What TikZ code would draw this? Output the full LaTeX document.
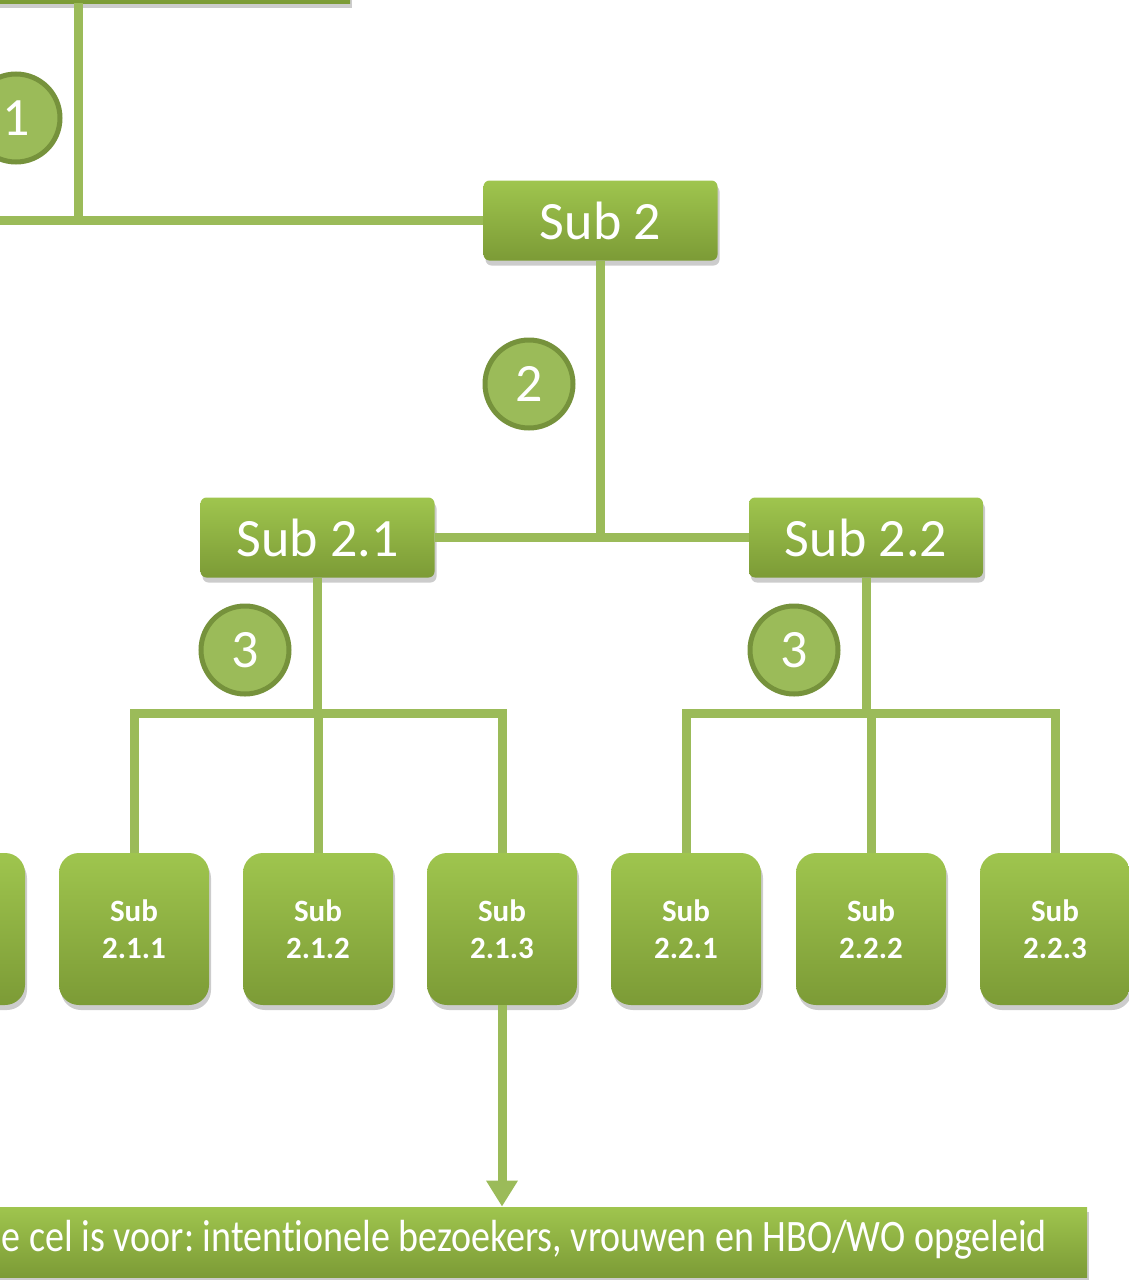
\documentclass[tikz,border=0pt]{standalone}
\usepackage{fontspec}
\setmainfont{Carlito}[Ligatures=NoCommon]
\usetikzlibrary{shadows,arrows.meta}
\frenchspacing

\definecolor{linegreen}{HTML}{9BBB59}
\definecolor{boxtop}{HTML}{9FC54E}
\definecolor{boxbottom}{HTML}{7C9B36}
\definecolor{ringgreen}{HTML}{76923C}

\begin{document}
\begin{tikzpicture}[x=0.5pt, y=-0.5pt,
    box/.style={rectangle, top color=boxtop, bottom color=boxbottom, text=white,
        drop shadow={shadow xshift=1pt, shadow yshift=-2.5pt, opacity=0.4}},
    subbox/.style={box, rounded corners=3pt, minimum width=117pt, minimum height=40pt,
        font=\fontsize{27}{30}\selectfont},
    leafbox/.style={box, rounded corners=10pt, minimum width=75pt, minimum height=76pt,
        align=center, font=\bfseries\fontsize{15.5}{18.5}\selectfont},
    stepmark/.style={circle, fill=linegreen, draw=ringgreen, line width=2.5pt,
        minimum size=44pt, inner sep=0pt, text=white, font=\fontsize{27}{30}\selectfont},
    link/.style={linegreen, line width=4.5pt}
]

    \useasboundingbox (0,0) rectangle (1129,1280);
    \clip (0,0) rectangle (1129,1280);

    % Top level and first split
    \node[box, minimum width=205pt, minimum height=41.5pt] (top) at (145,-38.5) {};
    \node[subbox] (sub2) at (600.5,220.5) {Sub 2};
    \node[subbox] (sub21) at (317.5,537.5) {Sub 2.1};
    \node[subbox] (sub22) at (866,537.5) {Sub 2.2};

    % Leaves
    \node[leafbox] (sub20) at (-50,929) {};
    \node[leafbox] (sub211) at (134,929) {Sub\\2.1.1};
    \node[leafbox] (sub212) at (318,929) {Sub\\2.1.2};
    \node[leafbox] (sub213) at (502,929) {Sub\\2.1.3};
    \node[leafbox] (sub221) at (686,929) {Sub\\2.2.1};
    \node[leafbox] (sub222) at (871,929) {Sub\\2.2.2};
    \node[leafbox] (sub223) at (1055,929) {Sub\\2.2.3};

    % Target cell
    \node[box, minimum width=563.5pt, minimum height=35pt] (cell) at (523.5,1242) {};
    \node[anchor=east, text=white, font=\fontsize{22.5}{24}\selectfont] (celltext) at (1054,1240)
        {\scalebox{0.845}[1]{e cel is voor: intentionele bezoekers, vrouwen en HBO/WO opgeleid}};

    \coordinate (j0) at (78,220.5);
    \coordinate (jl) at (-10,220.5);
    \coordinate (j21) at (318,713);
    \coordinate (j22) at (866,713);

    \draw[link] (top.south -| j0) -- (j0);
    \draw[link] (jl) -- (sub2.west);
    \draw[link] (sub2.south) -- (sub2.south |- sub21.east);
    \draw[link] (sub21.east) -- (sub22.west);

    \draw[link] (sub21.south) -- (sub21.south |- j21);
    \draw[link] (sub211.north) |- (j21) -| (sub213.north);
    \draw[link] (sub212.north) -- (sub212.north |- j21);

    \draw[link] (sub22.south) -- (sub22.south |- j22);
    \draw[link] (sub221.north) |- (j22) -| (sub223.north);
    \draw[link] (sub222.north) -- (sub222.north |- j22);

    \draw[link, -{Triangle[width=15pt, length=13pt]}] (sub213.south) -- (sub213.south |- cell.north);

    % Step markers
    \node[stepmark] (m1) at (16,118) {1};
    \node[stepmark] (m2) at (529,384) {2};
    \node[stepmark] (m3a) at (245,650) {3};
    \node[stepmark] (m3b) at (794,650) {3};

\end{tikzpicture}
\end{document}
